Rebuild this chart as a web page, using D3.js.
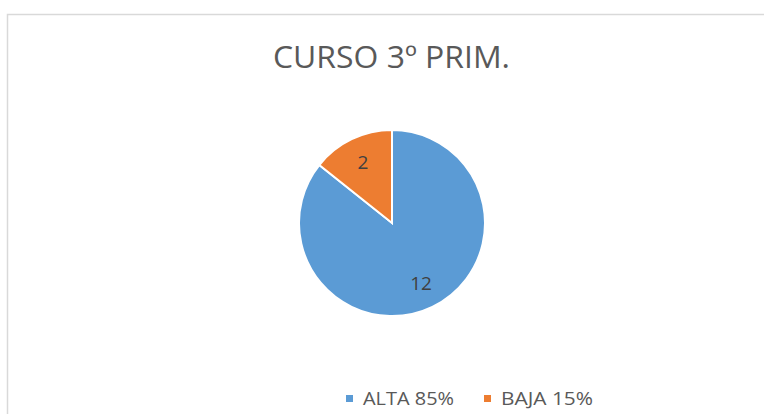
<!DOCTYPE html>
<meta charset="utf-8">
<title>CURSO 3º PRIM.</title>
<style>
  body { margin: 0; background: white; }
  svg { display: block; font-family: 'Open Sans', sans-serif; }
</style>
<body>
<div id="chart"></div>
<script src="https://d3js.org/d3.v7.min.js"></script>
<script>

// data
var categories = ["ALTA", "BAJA"];
var values = [12, 2];
var legendLabels = ["ALTA 85%", "BAJA 15%"];
var colors = ["#5B9BD5", "#ED7D31"];

var width = 764, height = 414;
var cx = 392, cy = 223, radius = 93;

var svg = d3.select("#chart")
  .append("svg")
    .attr("width", width)
    .attr("height", height);

// chart border (runs off the right/bottom edge)
svg.append("rect")
    .attr("x", 7.5)
    .attr("y", 14.5)
    .attr("width", 800)
    .attr("height", 450)
    .attr("fill", "white")
    .attr("stroke", "#d9d9d9")
    .attr("stroke-width", 1.5);

// title
svg.append("text")
    .attr("x", 391.5)
    .attr("y", 68)
    .attr("text-anchor", "middle")
    .attr("textLength", 237)
    .attr("lengthAdjust", "spacingAndGlyphs")
    .style("font-size", "31px")
    .style("font-weight", 400)
    .style("fill", "#595959")
    .text("CURSO 3º PRIM.");

var color = d3.scaleOrdinal().domain(categories).range(colors);

var pie = d3.pie().sort(null)
  .value(function(d, i) { return values[i]; });

var arcs = pie(categories);

var arc = d3.arc().innerRadius(0).outerRadius(radius);
var labelArc = d3.arc().innerRadius(67).outerRadius(67);

var g = svg.append("g")
    .attr("transform", "translate(" + cx + "," + cy + ")");

g.selectAll("path.slice")
  .data(arcs)
  .enter()
  .append("path")
    .attr("class", "slice")
    .attr("d", arc)
    .attr("fill", function(d) { return color(d.data); })
    .attr("stroke", "white")
    .attr("stroke-width", 2)
    .attr("stroke-linejoin", "miter");

g.selectAll("text.val")
  .data(arcs)
  .enter()
  .append("text")
    .attr("class", "val")
    .attr("transform", function(d) { return "translate(" + labelArc.centroid(d) + ")"; })
    .attr("text-anchor", "middle")
    .attr("dy", "0.36em")
    .style("font-size", "19px")
    .style("fill", "#404040")
    .text(function(d) { return d.value; });

// legend
var legendX = [346, 484];
var legend = svg.selectAll("g.legend")
  .data(categories)
  .enter()
  .append("g")
    .attr("class", "legend")
    .attr("transform", function(d, i) { return "translate(" + legendX[i] + ",395)"; });

legend.append("rect")
    .attr("width", 7)
    .attr("height", 7)
    .attr("fill", function(d) { return color(d); });

legend.append("text")
    .attr("x", 17)
    .attr("y", 10)
    .attr("textLength", function(d, i) { return i === 0 ? 91 : 92; })
    .attr("lengthAdjust", "spacingAndGlyphs")
    .style("font-size", "18px")
    .style("fill", "#595959")
    .text(function(d, i) { return legendLabels[i]; });

</script>
</body>
